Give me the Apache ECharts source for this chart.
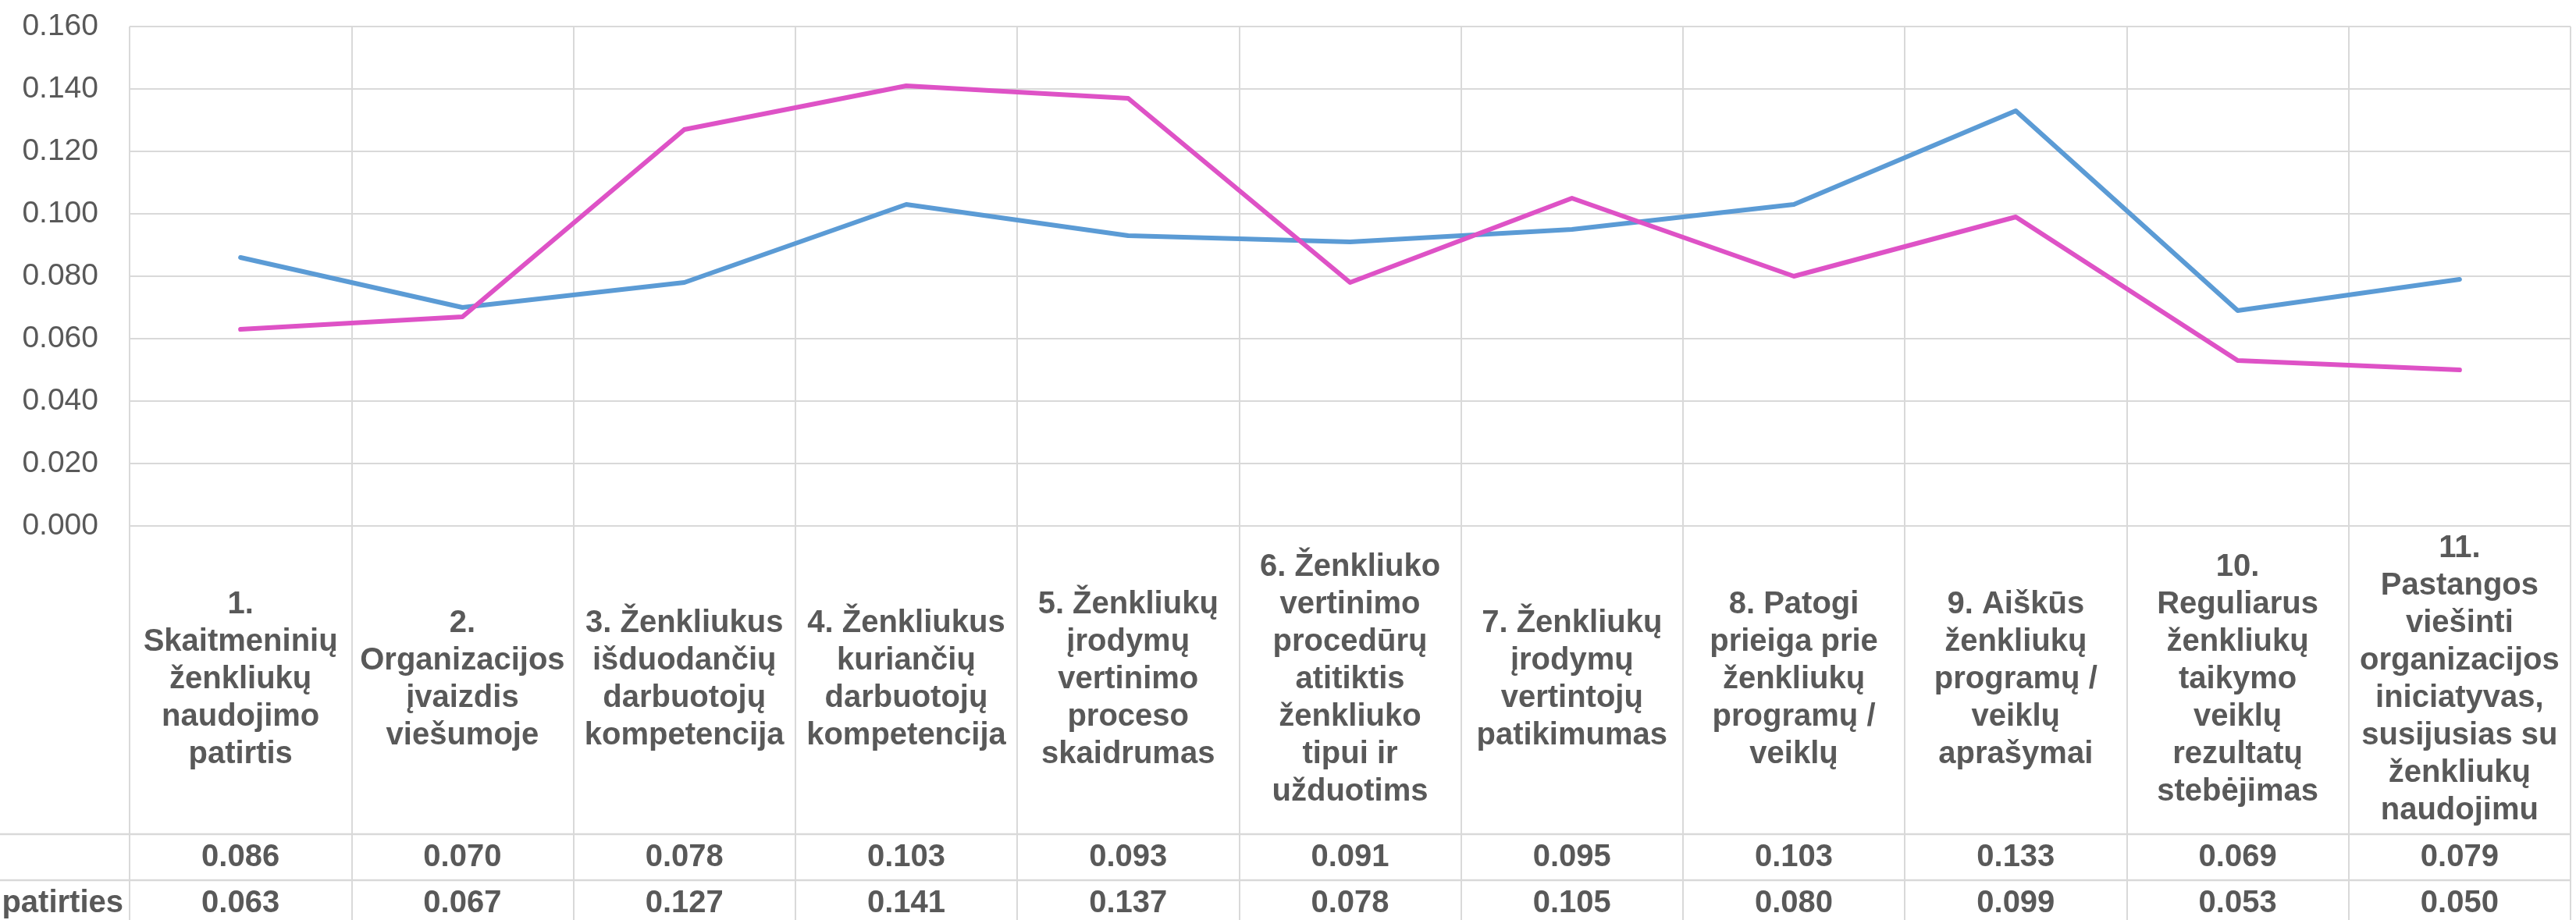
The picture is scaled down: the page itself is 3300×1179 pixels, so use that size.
<!DOCTYPE html>
<html>
<head>
<meta charset="utf-8">
<script src="https://cdn.jsdelivr.net/npm/echarts@6/dist/echarts.min.js"></script>
<style>
  html, body { margin: 0; padding: 0; background: #ffffff; }
  #chart { width: 3300px; height: 1179px; }
</style>
</head>
<body>
<div id="chart"></div>
<script>
// ---- data ----
var categories = [
  "1.\nSkaitmeninių\nženkliukų\nnaudojimo\npatirtis",
  "2.\nOrganizacijos\nįvaizdis\nviešumoje",
  "3. Ženkliukus\nišduodančių\ndarbuotojų\nkompetencija",
  "4. Ženkliukus\nkuriančių\ndarbuotojų\nkompetencija",
  "5. Ženkliukų\nįrodymų\nvertinimo\nproceso\nskaidrumas",
  "6. Ženkliuko\nvertinimo\nprocedūrų\natitiktis\nženkliuko\ntipui ir\nužduotims",
  "7. Ženkliukų\nįrodymų\nvertintojų\npatikimumas",
  "8. Patogi\nprieiga prie\nženkliukų\nprogramų /\nveiklų",
  "9. Aiškūs\nženkliukų\nprogramų /\nveiklų\naprašymai",
  "10.\nReguliarus\nženkliukų\ntaikymo\nveiklų\nrezultatų\nstebėjimas",
  "11.\nPastangos\nviešinti\norganizacijos\niniciatyvas,\nsusijusias su\nženkliukų\nnaudojimu"
];
var seriesAName = "";
var seriesA = [0.086, 0.070, 0.078, 0.103, 0.093, 0.091, 0.095, 0.103, 0.133, 0.069, 0.079];
var seriesBName = "patirties";
var seriesB = [0.063, 0.067, 0.127, 0.141, 0.137, 0.078, 0.105, 0.080, 0.099, 0.053, 0.050];
var yTicks = { min: 0, max: 0.16, interval: 0.02 };

// ---- chart ----
var FONT = "'Liberation Sans', Arial, sans-serif";
var TEXT = "#595959";
var GRID = "#d9d9d9";

var chart = echarts.init(document.getElementById('chart'), null, { renderer: 'canvas' });

var option = {
  animation: false,
  backgroundColor: '#ffffff',
  textStyle: { fontFamily: FONT },
  grid: { left: 166, right: 7, top: 34, bottom: 505, containLabel: false },
  yAxis: {
    type: 'value',
    min: yTicks.min, max: yTicks.max, interval: yTicks.interval,
    axisLine: { show: false },
    axisTick: { show: false },
    splitLine: { show: true, lineStyle: { color: GRID, width: 2 } },
    axisLabel: {
      color: TEXT, fontFamily: FONT, fontSize: 39, margin: 40,
      formatter: function (v) { return v.toFixed(3); }
    }
  },
  xAxis: [
    {
      type: 'category',
      data: categories,
      boundaryGap: true,
      position: 'bottom',
      axisLine: { show: true, lineStyle: { color: GRID, width: 2 } },
      axisTick: { show: true, interval: 0, length: 505, lineStyle: { color: GRID, width: 2 } },
      splitLine: { show: true, interval: 0, lineStyle: { color: GRID, width: 2 } },
      axisLabel: {
        interval: 0, color: TEXT, fontFamily: FONT, fontWeight: 'bold',
        fontSize: 40, lineHeight: 48, margin: 197, verticalAlign: 'middle', align: 'center'
      }
    },
    {
      type: 'category',
      data: categories,
      boundaryGap: true,
      position: 'bottom',
      offset: 395,
      axisLine: { show: false },
      axisTick: { show: false },
      splitLine: { show: false },
      axisLabel: {
        interval: 0, color: TEXT, fontFamily: FONT, fontWeight: 'bold',
        fontSize: 40, margin: 30, verticalAlign: 'middle', align: 'center',
        formatter: function (v, i) { return seriesA[i].toFixed(3); }
      }
    },
    {
      type: 'category',
      data: categories,
      boundaryGap: true,
      position: 'bottom',
      offset: 454,
      axisLine: { show: false },
      axisTick: { show: false },
      splitLine: { show: false },
      axisLabel: {
        interval: 0, color: TEXT, fontFamily: FONT, fontWeight: 'bold',
        fontSize: 40, margin: 30, verticalAlign: 'middle', align: 'center',
        formatter: function (v, i) { return seriesB[i].toFixed(3); }
      }
    }
  ],
  series: [
    {
      name: seriesAName || 'A',
      type: 'line',
      xAxisIndex: 0,
      data: seriesA,
      symbol: 'none',
      lineStyle: { color: '#5B9BD5', width: 6, cap: 'round', join: 'round' },
      itemStyle: { color: '#5B9BD5' },
      z: 3
    },
    {
      name: seriesBName,
      type: 'line',
      xAxisIndex: 0,
      data: seriesB,
      symbol: 'none',
      lineStyle: { color: '#DE52C6', width: 6, cap: 'round', join: 'round' },
      itemStyle: { color: '#DE52C6' },
      z: 4
    }
  ],
  graphic: [
    { type: 'line', silent: true, z: 1,
      shape: { x1: 0, y1: 1069, x2: 3293, y2: 1069 },
      style: { stroke: GRID, lineWidth: 2.5 } },
    { type: 'line', silent: true, z: 1,
      shape: { x1: 0, y1: 1128, x2: 3293, y2: 1128 },
      style: { stroke: GRID, lineWidth: 2.5 } },
    { type: 'text', silent: true, z: 5,
      x: 158, y: 1158,
      style: { text: seriesBName, fill: TEXT, font: 'bold 40px ' + FONT,
               textAlign: 'right', textVerticalAlign: 'middle' } }
  ]
};

chart.setOption(option);
</script>
</body>
</html>
